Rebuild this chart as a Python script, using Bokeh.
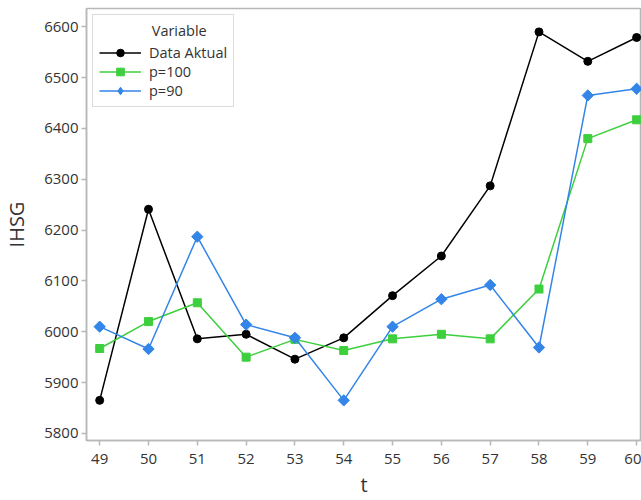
import math
from bokeh.plotting import figure
from bokeh.models import Range1d, FixedTicker, Legend, LegendItem
from bokeh.embed import file_html
from bokeh.resources import INLINE

# ---- data ----
t = [49, 50, 51, 52, 53, 54, 55, 56, 57, 58, 59, 60]
data_aktual = [5865, 6241, 5986, 5995, 5946, 5988, 6071, 6149, 6287, 6590, 6532, 6579]
p100 = [5967, 6020, 6057, 5950, 5985, 5963, 5986, 5995, 5986, 6084, 6380, 6417]
p90 = [6010, 5966, 6187, 6014, 5988, 5865, 6010, 6064, 6092, 5969, 6465, 6478]
x_ticks = [49, 50, 51, 52, 53, 54, 55, 56, 57, 58, 59, 60]
y_ticks = [5800, 5900, 6000, 6100, 6200, 6300, 6400, 6500, 6600]
series_names = ["Data Aktual", "p=100", "p=90"]
legend_title = "Variable"

FONT = "Open Sans"
AXIS_GRAY = "#b8b8b8"
TEXT = "#333333"
BLACK = "#000000"
GREEN = "#3dcf3d"
BLUE = "#3385e8"

p = figure(width=641, height=500, output_backend="svg", toolbar_location=None,
           x_range=Range1d(48.73, 60.10), y_range=Range1d(5786, 6636),
           min_border_left=86, min_border_right=0, min_border_top=8,
           min_border_bottom=59)

p.xgrid.visible = False
p.ygrid.visible = False
p.outline_line_color = AXIS_GRAY
p.outline_line_width = 1.5
p.background_fill_color = "white"
p.border_fill_color = "white"

for ax in (p.xaxis[0], p.yaxis[0]):
    ax.axis_line_color = AXIS_GRAY
    ax.axis_line_width = 1.5
    ax.major_tick_line_color = AXIS_GRAY
    ax.major_tick_line_width = 1.5
    ax.major_tick_out = 5
    ax.major_tick_in = 0
    ax.minor_tick_line_color = None
    ax.major_label_text_font = FONT
    ax.major_label_text_font_size = "15px"
    ax.major_label_text_color = TEXT
    ax.axis_label_text_font = FONT
    ax.axis_label_text_font_size = "20px"
    ax.axis_label_text_font_style = "normal"
    ax.axis_label_text_color = TEXT

p.xaxis.ticker = FixedTicker(ticks=x_ticks)
p.yaxis.ticker = FixedTicker(ticks=y_ticks)
p.xaxis.axis_label = "t"
p.yaxis.axis_label = "IHSG"
p.xaxis.major_label_standoff = 8
p.yaxis.major_label_standoff = 3
p.xaxis.axis_label_standoff = 4
p.yaxis.axis_label_standoff = 11

l1 = p.line(t, data_aktual, line_color=BLACK, line_width=1.5)
m1 = p.scatter(t, data_aktual, marker="circle", size=8, fill_color=BLACK, line_color=BLACK)
l2 = p.line(t, p100, line_color=GREEN, line_width=1.5)
m2 = p.scatter(t, p100, marker="square", size=8, fill_color=GREEN, line_color=GREEN)
l3 = p.line(t, p90, line_color=BLUE, line_width=1.5)
# legend proxy (diamond) drawn underneath the last p=90 marker, fully covered by it
m3_leg = p.scatter(t[-1:], p90[-1:], marker="diamond", size=11,
                   fill_color=BLUE, line_color=BLUE)
m3 = p.scatter(t, p90, marker="square", angle=math.pi / 4, size=8,
               fill_color=BLUE, line_color=BLUE)

legend = Legend(items=[
    LegendItem(label=series_names[0], renderers=[l1, m1]),
    LegendItem(label=series_names[1], renderers=[l2, m2]),
    LegendItem(label=series_names[2], renderers=[l3, m3_leg]),
], location="top_left")
legend.title = "\u00a0" * 14 + legend_title
legend.title_text_font = FONT
legend.title_text_font_size = "14.5px"
legend.title_text_font_style = "normal"
legend.title_text_color = TEXT
legend.title_standoff = 3
legend.label_text_font = FONT
legend.label_text_font_size = "14.5px"
legend.label_text_color = TEXT
legend.glyph_width = 42
legend.glyph_height = 19
legend.label_height = 19
legend.label_standoff = 8
legend.spacing = 0
legend.padding = 6
legend.margin = 6
legend.border_line_color = AXIS_GRAY
legend.border_line_width = 1.5
legend.background_fill_alpha = 1
p.add_layout(legend)

open("out.html", "w").write(file_html(p, INLINE))
